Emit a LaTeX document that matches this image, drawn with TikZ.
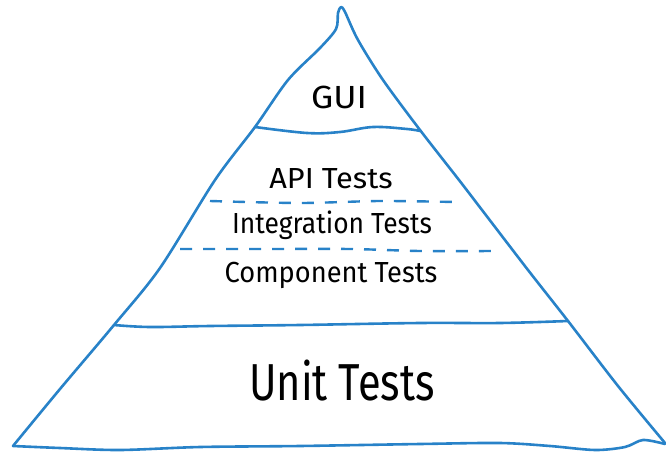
\documentclass[tikz,border=0pt]{standalone}
\usepackage{fontspec}
\setmainfont{Fira Sans}
\definecolor{pyr}{RGB}{40,130,200}
\begin{document}
\begin{tikzpicture}[x=1pt,y=-1pt,
  edge/.style={draw=pyr, line width=2.6pt, line cap=round, line join=round},
  dashline/.style={draw=pyr, line width=2.4pt, dash pattern=on 12pt off 11pt},
  lbl/.style={text=black, inner sep=0pt, anchor=base},
  midlbl/.style={lbl, font=\fontsize{29}{30}\selectfont},
]
\useasboundingbox (0,0) rectangle (666,452);
% outline sides
\draw[edge] plot[smooth, tension=0.5] coordinates {(13,446) (60,389) (114,325) (160,268) (215,180) (255,127) (288,80) (320,48) (336,29) (338,13) (341,7) (345,12) (358,40) (383,80) (420,130) (459,180) (482,210) (528,270) (568,321) (618,386) (665,443)};
% base
\draw[edge] plot[smooth, tension=0.5] coordinates {(13,446) (60,448) (120,450) (200,447) (300,446) (420,444) (500,443) (550,446) (595,450) (625,447) (643,440) (665,444)};
% GUI separator
\draw[edge] plot[smooth, tension=0.6] coordinates {(255,127) (307,133) (340,132) (373,127) (407,129) (420,131)};
% unit separator
\draw[edge] plot[smooth, tension=0.6] coordinates {(114,325) (150,327) (210,326) (300,325) (420,323) (500,323) (568,321)};
% dashed separators
\draw[dashline] plot[smooth] coordinates {(210,201) (300,203) (380,201) (455,202)};
\draw[dashline] plot[smooth] coordinates {(180,249) (260,249) (350,249) (420,251) (495,251)};
% labels
\node[lbl, font=\fontsize{32}{33}\selectfont] (gui) at (339,108) {\scalebox{1.1}[1]{GUI}};
\node[midlbl] (api) at (331,188) {\scalebox{1.06}[1]{API Tests}};
\node[midlbl] (integ) at (332,233) {\scalebox{0.91}[1]{Integration Tests}};
\node[midlbl] (comp) at (331,282) {\scalebox{0.94}[1]{Component Tests}};
\node[lbl, font=\fontsize{52}{54}\selectfont] (unit) at (342,400) {\scalebox{0.8}[1]{Unit Tests}};
\end{tikzpicture}
\end{document}
